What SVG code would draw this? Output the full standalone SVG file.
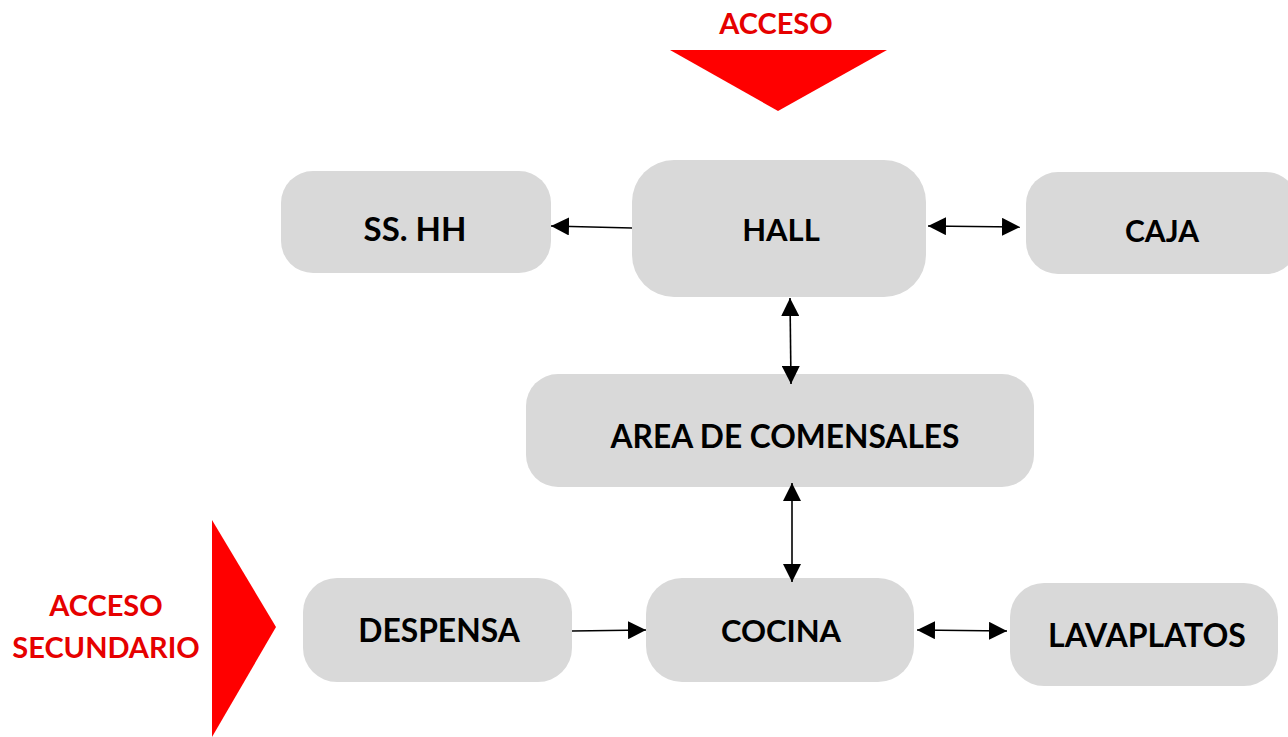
<svg xmlns="http://www.w3.org/2000/svg" width="1288" height="737" viewBox="0 0 1288 737">
<style>
.box{fill:#D9D9D9;}
.lbl{font-family:Lato,"Open Sans","Liberation Sans",sans-serif;font-weight:700;fill:#000;text-anchor:middle;}
.red{font-family:Lato,"Open Sans","Liberation Sans",sans-serif;font-weight:700;fill:#E60000;text-anchor:middle;}
.con{stroke:#000;stroke-width:1.6;fill:none;}
</style>
<defs>
<marker id="ah2" viewBox="0 0 10 10" refX="10" refY="5" markerWidth="18" markerHeight="18" markerUnits="userSpaceOnUse" orient="auto-start-reverse">
<path d="M0,0 L10,5 L0,10 z" fill="#000"/>
</marker>
</defs>
<rect width="1288" height="737" fill="#fff"/>
<g id="acceso">
<polygon points="670,50 887,50 778,111" fill="#FF0000"/>
<text class="red" x="776" y="34" font-size="29">ACCESO</text>
</g>
<g id="acceso-secundario">
<polygon points="212,520 276,627 212,737" fill="#FF0000"/>
<text class="red" x="106" y="616" font-size="29">ACCESO</text>
<text class="red" x="106" y="658" font-size="29">SECUNDARIO</text>
</g>
<g id="sshh">
<rect class="box" x="281" y="171" width="270" height="102" rx="32"/>
<text class="lbl" x="415" y="241" font-size="33">SS. HH</text>
</g>
<g id="hall">
<rect class="box" x="632" y="160" width="294" height="137" rx="42"/>
<text class="lbl" x="781" y="241" font-size="31">HALL</text>
</g>
<g id="caja">
<rect class="box" x="1026" y="172" width="272" height="102" rx="32"/>
<text class="lbl" x="1162" y="242" font-size="30">CAJA</text>
</g>
<g id="comensales">
<rect class="box" x="526" y="374" width="508" height="113" rx="32"/>
<text class="lbl" x="785" y="448" font-size="31.7">AREA DE COMENSALES</text>
</g>
<g id="despensa">
<rect class="box" x="303" y="578" width="269" height="104" rx="34"/>
<text class="lbl" x="439" y="642" font-size="31.8">DESPENSA</text>
</g>
<g id="cocina">
<rect class="box" x="646" y="578" width="268" height="104" rx="36"/>
<text class="lbl" x="781" y="642" font-size="31">COCINA</text>
</g>
<g id="lavaplatos">
<rect class="box" x="1010" y="583" width="268" height="103" rx="34"/>
<text class="lbl" x="1147" y="647" font-size="32">LAVAPLATOS</text>
</g>
<g id="connectors">
<line class="con" x1="632" y1="228" x2="551" y2="226" marker-end="url(#ah2)"/>
<line class="con" x1="928" y1="226" x2="1020" y2="227" marker-start="url(#ah2)" marker-end="url(#ah2)"/>
<line class="con" x1="790" y1="298" x2="791" y2="384" marker-start="url(#ah2)" marker-end="url(#ah2)"/>
<line class="con" x1="792" y1="483" x2="792" y2="582" marker-start="url(#ah2)" marker-end="url(#ah2)"/>
<line class="con" x1="572" y1="631" x2="646" y2="630" marker-end="url(#ah2)"/>
<line class="con" x1="917" y1="630" x2="1007" y2="631" marker-start="url(#ah2)" marker-end="url(#ah2)"/>
</g>
</svg>
